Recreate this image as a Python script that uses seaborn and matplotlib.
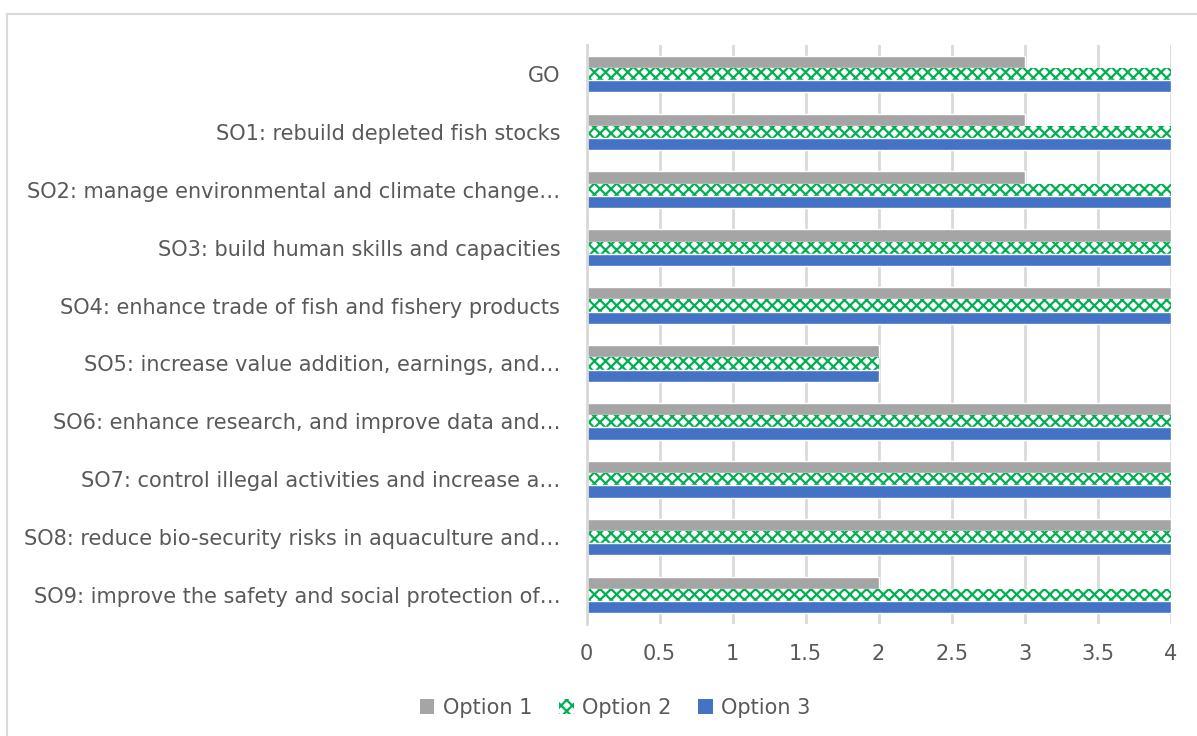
import pandas as pd
import numpy as np
import seaborn as sns
import matplotlib.pyplot as plt
from matplotlib.patches import Rectangle, Patch

# -----------------------------
# DATA
# -----------------------------
objectives = [
    'GO',
    'SO1: rebuild depleted fish stocks',
    'SO2: manage environmental and climate change…',
    'SO3: build human skills and capacities',
    'SO4: enhance trade of fish and fishery products',
    'SO5: increase value addition, earnings, and…',
    'SO6: enhance research, and improve data and…',
    'SO7: control illegal activities and increase a…',
    'SO8: reduce bio-security risks in aquaculture and…',
    'SO9: improve the safety and social protection of…',
]
option1 = [3, 3, 3, 4, 4, 2, 4, 4, 4, 2]
option2 = [4, 4, 4, 4, 4, 2, 4, 4, 4, 4]
option3 = [4, 4, 4, 4, 4, 2, 4, 4, 4, 4]
options = ['Option 1', 'Option 2', 'Option 3']
x_ticks = [0, 0.5, 1, 1.5, 2, 2.5, 3, 3.5, 4]

df = pd.DataFrame({
    'Objective': objectives * 3,
    'Score': option1 + option2 + option3,
    'Option': np.repeat(options, len(objectives)),
})

# -----------------------------
# STYLE
# -----------------------------
sns.set_style('white')
plt.rcParams['font.family'] = ['DejaVu Sans']
plt.rcParams['hatch.linewidth'] = 1.6

GREY, GREEN, BLUE = '#A5A5A5', '#00B050', '#4472C4'
TXT = '#595959'
FS = 15

fig = plt.figure(figsize=(11.97, 7.36), dpi=100)
ax = fig.add_axes([0.490, 0.152, 0.488, 0.787])

# chart border
fig.patches.append(Rectangle((7 / 1197, -0.05), 1.2, 1 - 14 / 736 + 0.05,
                             transform=fig.transFigure, fill=False,
                             edgecolor='#D9D9D9', linewidth=1.5))

sns.barplot(data=df, x='Score', y='Objective', hue='Option', orient='h',
            palette=[GREY, '#FFFFFF', BLUE], width=0.63,
            gap=0, saturation=1, legend=False, ax=ax)

# option 2 -> green checker pattern
for bar in ax.containers[1]:
    bar.set_facecolor('white')
    bar.set_edgecolor(GREEN)
    bar.set_hatch('xxx')
    bar.set_linewidth(0)

# -----------------------------
# AXES
# -----------------------------
ax.set_xlim(0, 4)
ax.set_xticks(x_ticks)
ax.set_xticklabels([f'{t:g}' for t in x_ticks])
ax.set_xlabel('')
ax.set_ylabel('')
ax.xaxis.grid(True, color='#D9D9D9', linewidth=2)
ax.set_axisbelow(True)
for s in ['top', 'right', 'bottom']:
    ax.spines[s].set_visible(False)
ax.spines['left'].set_color('#D9D9D9')
ax.spines['left'].set_linewidth(2)
ax.tick_params(axis='both', length=0, labelsize=FS, colors=TXT)
ax.tick_params(axis='x', pad=14)
ax.tick_params(axis='y', pad=19)
for lab in ax.get_yticklabels():
    lab.set_va('center_baseline')

handles = [
    Patch(facecolor=GREY, edgecolor='none', label='Option 1'),
    Patch(facecolor='white', edgecolor=GREEN, hatch='xxx', linewidth=0, label='Option 2'),
    Patch(facecolor=BLUE, edgecolor='none', label='Option 3'),
]
ax.legend(handles=handles, loc='center', bbox_to_anchor=(0.514, 0.038),
          bbox_transform=fig.transFigure, ncol=3, frameon=False,
          fontsize=FS, labelcolor=TXT, handlelength=0.7,
          handleheight=0.7, handletextpad=0.4, columnspacing=1.3)

plt.savefig('out.png', dpi=100)
